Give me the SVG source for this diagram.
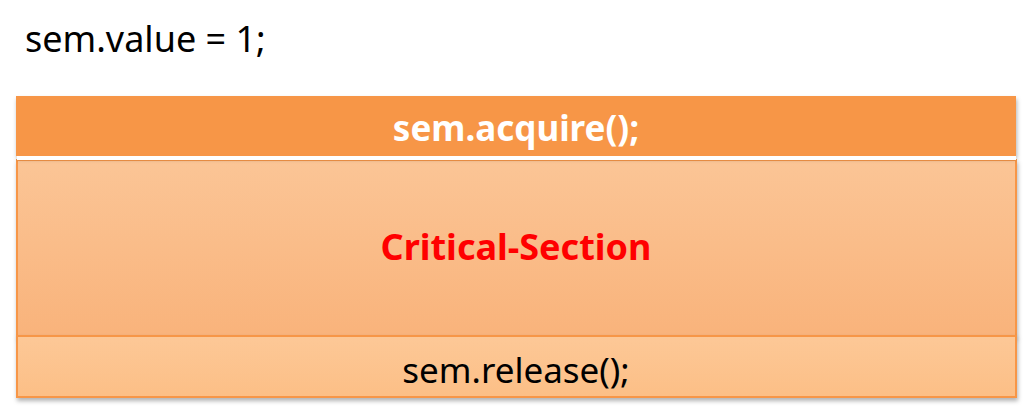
<svg xmlns="http://www.w3.org/2000/svg" width="1032" height="412" viewBox="0 0 1032 412">
<style>
.t{font-family:"Noto Sans","Open Sans","Liberation Sans",sans-serif;font-size:36px}
.b{font-weight:bold;font-size:35px}
</style>
<defs>
<linearGradient id="gm" x1="0" y1="0" x2="0" y2="1"><stop offset="0" stop-color="#fbc596"/><stop offset="1" stop-color="#f9b37b"/></linearGradient>
<linearGradient id="gb" x1="0" y1="0" x2="0" y2="1"><stop offset="0" stop-color="#fdc897"/><stop offset="1" stop-color="#fcbf86"/></linearGradient>
<filter id="sh" x="-5%" y="-5%" width="110%" height="120%"><feDropShadow dx="1" dy="3" stdDeviation="2" flood-color="#000" flood-opacity="0.3"/></filter>
</defs>
<rect width="1032" height="412" fill="#fff"/>
<text class="t" x="25" y="52">sem.value = 1;</text>
<g id="critical">
<rect x="17" y="160" width="999" height="176" fill="url(#gm)" stroke="#f79646" stroke-width="2" filter="url(#sh)"/>
<text class="t b" x="516" y="260" text-anchor="middle" fill="#ff0000" style="font-size:36px">Critical-Section</text>
</g>
<g id="acquire">
<rect x="16" y="96" width="1000" height="60" fill="#f79646" filter="url(#sh)"/>
<rect x="17" y="156" width="999" height="4" fill="#fff"/>
<text class="t b" x="516" y="141" text-anchor="middle" fill="#fff">sem.acquire();</text>
</g>
<g id="release">
<rect x="17" y="336" width="999" height="61" fill="url(#gb)" stroke="#f79646" stroke-width="2" filter="url(#sh)"/>
<text class="t" x="516" y="383" text-anchor="middle" fill="#000" style="font-size:35px">sem.release();</text>
</g>
<g id="connectors"/>
</svg>
